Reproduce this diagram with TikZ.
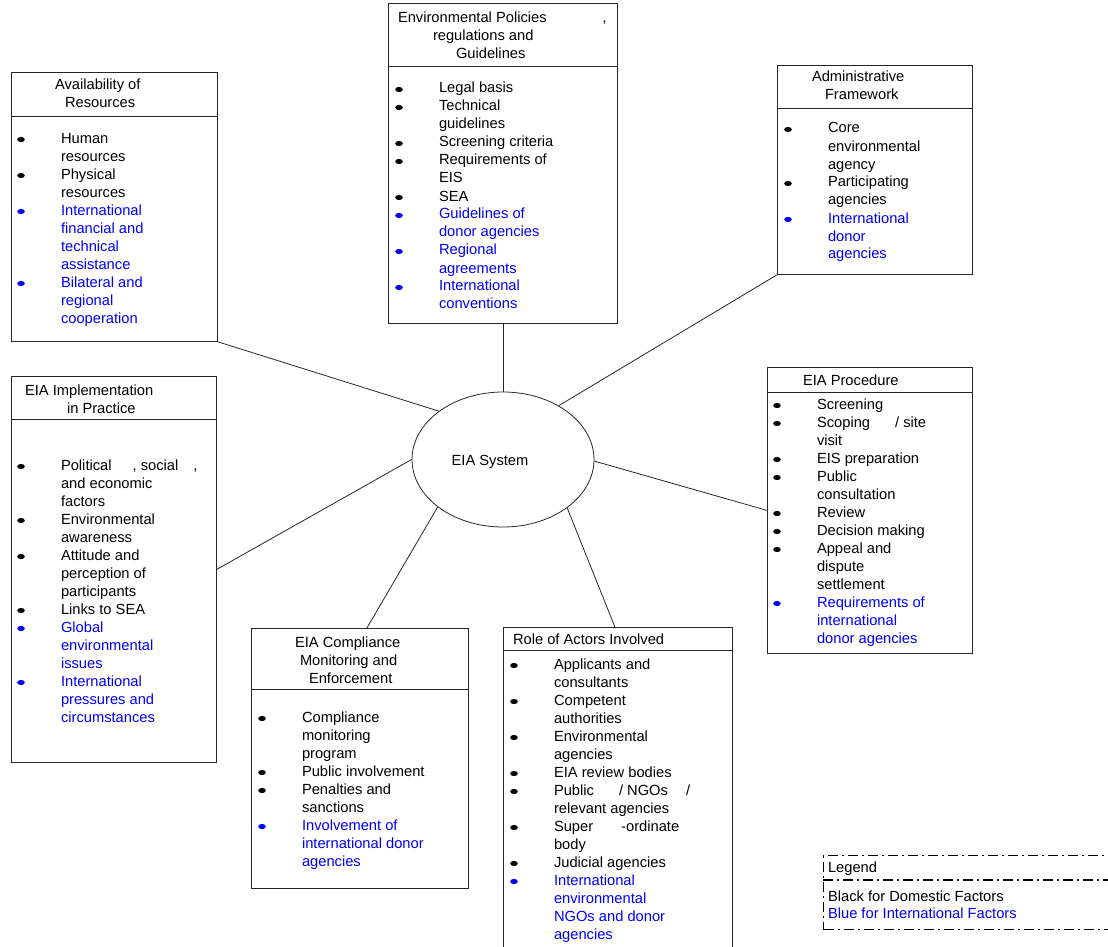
\documentclass[tikz,border=0pt]{standalone}
\usepackage{fontspec}
\setmainfont{Liberation Sans}
\usetikzlibrary{calc,shapes.geometric}
\definecolor{ublue}{RGB}{0,0,245}
\newcommand\bk{\leavevmode\llap{\tikz[x=1pt,y=1pt,baseline=-3.5pt]\fill (0,0) ellipse [x radius=3.8pt,y radius=2.6pt];\hspace{36.2pt}}}
\newcommand\lns[1]{\parbox[t]{330pt}{#1}}
\begin{document}
\begin{tikzpicture}[x=1pt,y=-1pt,
  txt/.style={inner sep=0pt, outer sep=0pt, anchor=base west, font=\fontsize{14.7}{18}\selectfont},
  box/.style={draw=black!85, line width=0.8pt, anchor=north west, inner sep=0pt, rectangle},
  conn/.style={draw=black!85, line width=0.8pt},
  legbox/.style={draw=black, line width=1.2pt, dash pattern=on 10pt off 4pt on 2pt off 4pt, anchor=north west, inner sep=0pt, rectangle}]
\useasboundingbox (0,0) rectangle (1108,947);
\clip (0,0) rectangle (1108,947);

% ---------- central ellipse ----------
\node[ellipse, draw=black!85, line width=0.8pt, minimum width=182, minimum height=135, inner sep=0pt] (sys) at (503,459.5) {};
\node[txt, anchor=base] (syst) at (490,465) {EIA System};

% ---------- Availability of Resources ----------
\node[box, minimum width=206, minimum height=269] (res) at (11,72) {};
\draw[conn] (11,116) -- (217,116);
\node[txt] (rest) at (55,90) {\lns{Availability of\\\hspace*{10pt}Resources}};
\node[txt] (resb) at (61,143) {\lns{\bk Human\\resources\\\bk Physical\\resources\\\color{ublue}\bk International\\financial and\\technical\\assistance\\\bk Bilateral and\\regional\\cooperation}};

% ---------- Environmental Policies ----------
\node[box, minimum width=229, minimum height=320] (pol) at (388,3) {};
\draw[conn] (388,66) -- (617,66);
\node[txt] (polt) at (398,23) {\lns{Environmental Policies\hspace{56pt},\\\hspace*{35pt}regulations and\\\hspace*{58pt}Guidelines}};
\node[txt] (polb) at (439,93) {\lns{\bk Legal basis\\\bk Technical\\guidelines\\\bk Screening criteria\\\bk Requirements of\\EIS\\\bk SEA\\\color{ublue}\bk Guidelines of\\donor agencies\\\bk Regional\\agreements\\\bk International\\conventions}};

% ---------- Administrative Framework ----------
\node[box, minimum width=195, minimum height=209] (adm) at (777,65) {};
\draw[conn] (777,108) -- (972,108);
\node[txt] (admt) at (812,82) {\lns{Administrative\\\hspace*{13pt}Framework}};
\node[txt] (admb) at (828,133) {\lns{\bk Core\\environmental\\agency\\\bk Participating\\agencies\\\color{ublue}\bk International\\donor\\agencies}};

% ---------- EIA Implementation in Practice ----------
\node[box, minimum width=205, minimum height=386] (imp) at (11,376) {};
\draw[conn] (11,419) -- (216,419);
\node[txt] (impt) at (25,395) {\lns{EIA Implementation\\\hspace*{42pt}in Practice}};
\node[txt] (impb) at (61,470) {\lns{\bk Political\hspace{21pt}, social\hspace{15pt},\\and economic\\factors\\\bk Environmental\\awareness\\\bk Attitude and\\perception of\\participants\\\bk Links to SEA\\\color{ublue}\bk Global\\environmental\\issues\\\bk International\\pressures and\\circumstances}};

% ---------- EIA Procedure ----------
\node[box, minimum width=205, minimum height=286] (pro) at (767,367) {};
\draw[conn] (767,392) -- (972,392);
\node[txt] (prot) at (803,385) {EIA Procedure};
\node[txt] (prob) at (817,409) {\lns{\bk Screening\\\bk Scoping\hspace{25pt}/ site\\visit\\\bk EIS preparation\\\bk Public\\consultation\\\bk Review\\\bk Decision making\\\bk Appeal and\\dispute\\settlement\\\color{ublue}\bk Requirements of\\international\\donor agencies}};

% ---------- EIA Compliance Monitoring and Enforcement ----------
\node[box, minimum width=217, minimum height=260] (com) at (251,628) {};
\draw[conn] (251,689) -- (468,689);
\node[txt] (comt) at (295,647) {\lns{EIA Compliance\\\hspace*{5pt}Monitoring and\\\hspace*{14pt}Enforcement}};
\node[txt] (comb) at (302,722) {\lns{\bk Compliance\\monitoring\\program\\\bk Public involvement\\\bk Penalties and\\sanctions\\\color{ublue}\bk Involvement of\\international donor\\agencies}};

% ---------- Role of Actors Involved ----------
\node[box, minimum width=229, minimum height=340] (rol) at (503,627) {};
\draw[conn] (503,650) -- (732,650);
\node[txt] (rolt) at (513,644) {Role of Actors Involved};
\node[txt] (rolb) at (554,669) {\lns{\bk Applicants and\\consultants\\\bk Competent\\authorities\\\bk Environmental\\agencies\\\bk EIA review bodies\\\bk Public\hspace{25pt}/ NGOs\hspace{18pt}/\\relevant agencies\\\bk Super\hspace{28pt}-ordinate\\body\\\bk Judicial agencies\\\color{ublue}\bk International\\environmental\\NGOs and donor\\agencies}};

% ---------- Legend ----------
\node[legbox, minimum width=300, minimum height=74] (leg) at (823,855) {};
\draw[line width=1.2pt, dash pattern=on 10pt off 4pt on 2pt off 4pt] (823,880) -- (1123,880);
\node[txt] (legt) at (828,872) {Legend};
\node[txt] (legb) at (828,901) {\lns{Black for Domestic Factors\\[-1pt]\color{ublue}Blue for International Factors}};

% ---------- connectors ----------
\draw[conn] (sys.143.3) -- (res.south east);
\draw[conn] (sys.north) -- (sys.north |- pol.south);
\draw[conn] (sys.44.2) -- (adm.south west);
\draw[conn] (sys.180) -- (imp.east);
\draw[conn] (sys.-1) -- (pro.west);
\draw[conn] (sys.216.7) -- ([xshift=7pt]com.north);
\draw[conn] (sys.-37.2) -- ([xshift=-3pt]rol.north);
\end{tikzpicture}
\end{document}
